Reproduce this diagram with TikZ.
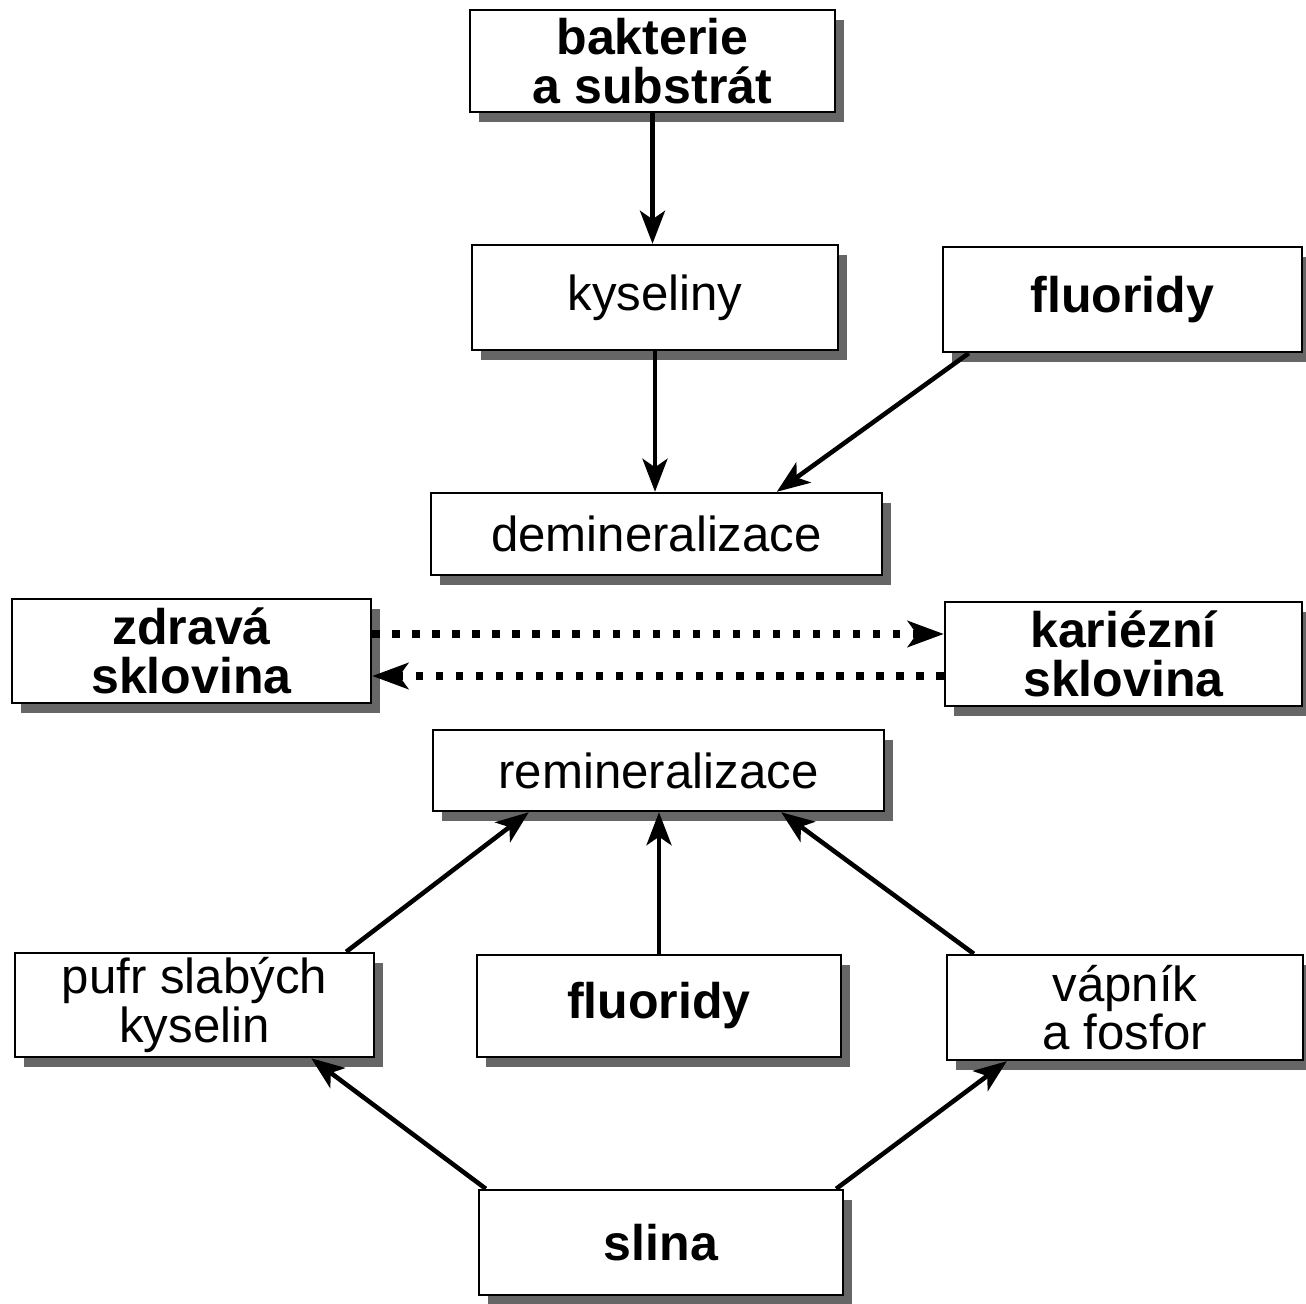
\documentclass[tikz,border=0pt]{standalone}
\usepackage{fontspec}
\setmainfont{Liberation Sans}
\usetikzlibrary{arrows.meta,calc,shadows}
\begin{document}
\begin{tikzpicture}[x=0.02cm,y=-0.02cm,
  box/.style={draw=black, line width=1.4pt, fill=white, rectangle, inner sep=0pt,
    align=center, font=\fontsize{28}{27.5}\selectfont,
    drop shadow={shadow xshift=0.18cm, shadow yshift=-0.2cm, fill=black!60, opacity=1}},
  bbox/.style={box, font=\fontsize{28.5}{27.5}\selectfont\bfseries},
  arr/.style={line width=2.6pt, -{Stealth[length=0.66cm,width=0.5cm,inset=0.17cm]}},
  dots/.style={line width=4.4pt, dash pattern=on 4.2pt off 7.2pt,
    -{Stealth[length=0.72cm,width=0.52cm,inset=0.18cm]}}]
\useasboundingbox (0,0) rectangle (1306,1304);
\fill[white] (0,0) rectangle (1306,1304);

\node[bbox, minimum width=7.30cm, minimum height=2.04cm] (bak) at (652.5,61) {bakterie\\a substrát};
\node[box,  minimum width=7.32cm, minimum height=2.10cm] (kys) at (655,297.5) {kyseliny};
\node[bbox, minimum width=7.18cm, minimum height=2.10cm] (flA) at (1122.5,299.5) {fluoridy};
\node[box,  minimum width=9.02cm, minimum height=1.64cm] (dem) at (656.5,534) {demineralizace};
\node[bbox, minimum width=7.18cm, minimum height=2.08cm] (zdr) at (191.5,651) {zdravá\\sklovina};
\node[bbox, minimum width=7.14cm, minimum height=2.08cm] (kar) at (1123.5,654) {kariézní\\sklovina};
\node[box,  minimum width=9.02cm, minimum height=1.62cm] (rem) at (658.5,770.5) {remineralizace};
\node[box,  minimum width=7.18cm, minimum height=2.08cm] (puf) at (194.5,1005) {pufr slabých\\kyselin};
\node[bbox, minimum width=7.28cm, minimum height=2.04cm] (flB) at (659,1006) {fluoridy};
\node[box,  minimum width=7.12cm, minimum height=2.10cm] (vap) at (1125,1007.5) {vápník\\a fosfor};
\node[bbox, minimum width=7.28cm, minimum height=2.10cm] (sli) at (661,1242.5) {slina};

\coordinate (r1) at (0,634);
\coordinate (r2) at (0,676);

\draw[arr] (bak.south) -- (bak.south |- kys.north);
\draw[arr] (kys.south) -- (kys.south |- dem.north);
\draw[arr] ($(flA.south west)+(27,0)$) -- ($(dem.north west)+(347,0)$);
\draw[dots] (zdr.east |- r1) -- (kar.west |- r1);
\draw[dots] (kar.west |- r2) -- (zdr.east |- r2);
\draw[arr] ($(puf.north east)+(-29,0)$) -- ($(rem.south west)+(97,0)$);
\draw[arr] (flB.north) -- (flB.north |- rem.south);
\draw[arr] ($(vap.north west)+(28,0)$) -- ($(rem.south east)+(-104,0)$);
\draw[arr] ($(sli.north west)+(8,0)$) -- ($(puf.south east)+(-64,0)$);
\draw[arr] ($(sli.north east)+(-8,0)$) -- ($(vap.south west)+(61,0)$);
\end{tikzpicture}
\end{document}
